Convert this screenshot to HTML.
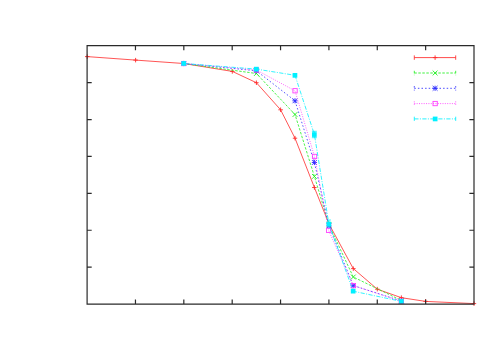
<!DOCTYPE html>
<html><head><meta charset="utf-8"><title>plot</title>
<style>html,body{margin:0;padding:0;background:#fff;font-family:"Liberation Sans",sans-serif}svg{display:block}</style>
</head><body>
<svg width="500" height="350" viewBox="0 0 500 350">
<rect width="500" height="350" fill="#fff"/>
<polyline points="87.2,56.6 135.6,60.1 183.7,63.5 232.3,71.4 256.4,82.7 280.6,109.8 295.0,138.2 314.4,187.5 329.0,224.0 353.3,268.6 377.3,289.2 401.4,297.7 425.6,301.4 474.0,303.6" fill="none" stroke="#ff2a2a" stroke-width="0.8"/>
<path d="M85.0 56.6H89.5M87.2 54.4V58.9" stroke="#ff2a2a" stroke-width="0.9" fill="none"/>
<path d="M133.3 60.1H137.8M135.6 57.9V62.4" stroke="#ff2a2a" stroke-width="0.9" fill="none"/>
<path d="M181.4 63.5H185.9M183.7 61.2V65.8" stroke="#ff2a2a" stroke-width="0.9" fill="none"/>
<path d="M230.1 71.4H234.6M232.3 69.2V73.7" stroke="#ff2a2a" stroke-width="0.9" fill="none"/>
<path d="M254.1 82.7H258.6M256.4 80.5V85.0" stroke="#ff2a2a" stroke-width="0.9" fill="none"/>
<path d="M278.4 109.8H282.9M280.6 107.5V112.0" stroke="#ff2a2a" stroke-width="0.9" fill="none"/>
<path d="M292.8 138.2H297.2M295.0 135.9V140.4" stroke="#ff2a2a" stroke-width="0.9" fill="none"/>
<path d="M312.1 187.5H316.6M314.4 185.2V189.8" stroke="#ff2a2a" stroke-width="0.9" fill="none"/>
<path d="M326.8 224.0H331.2M329.0 221.8V226.2" stroke="#ff2a2a" stroke-width="0.9" fill="none"/>
<path d="M351.1 268.6H355.6M353.3 266.4V270.9" stroke="#ff2a2a" stroke-width="0.9" fill="none"/>
<path d="M375.1 289.2H379.6M377.3 286.9V291.4" stroke="#ff2a2a" stroke-width="0.9" fill="none"/>
<path d="M399.1 297.7H403.6M401.4 295.4V299.9" stroke="#ff2a2a" stroke-width="0.9" fill="none"/>
<path d="M423.4 301.4H427.9M425.6 299.1V303.6" stroke="#ff2a2a" stroke-width="0.9" fill="none"/>
<path d="M471.8 303.6H476.2M474.0 301.4V305.9" stroke="#ff2a2a" stroke-width="0.9" fill="none"/>
<path d="M414.3 57.6H455.7" fill="none" stroke="#ff2a2a" stroke-width="0.85"/>
<path d="M414.3 55.4V59.800000000000004M455.7 55.4V59.800000000000004" fill="none" stroke="#ff2a2a" stroke-width="0.85"/>
<path d="M432.9 57.6H437.4M435.1 55.4V59.9" stroke="#ff2a2a" stroke-width="0.9" fill="none"/>
<polyline points="183.7,63.5 256.4,73.5 295.0,114.5 314.4,176.4 329.0,225.0 353.3,277.0 401.4,300.5" fill="none" stroke="#20f020" stroke-width="0.8" stroke-dasharray="2.5 1.5"/>
<path d="M181.3 61.1L186.1 65.9M181.3 65.9L186.1 61.1" stroke="#20f020" stroke-width="0.9" fill="none"/>
<path d="M254.0 71.1L258.8 75.9M254.0 75.9L258.8 71.1" stroke="#20f020" stroke-width="0.9" fill="none"/>
<path d="M292.6 112.1L297.4 116.9M292.6 116.9L297.4 112.1" stroke="#20f020" stroke-width="0.9" fill="none"/>
<path d="M312.0 174.0L316.8 178.8M312.0 178.8L316.8 174.0" stroke="#20f020" stroke-width="0.9" fill="none"/>
<path d="M326.6 222.6L331.4 227.4M326.6 227.4L331.4 222.6" stroke="#20f020" stroke-width="0.9" fill="none"/>
<path d="M350.9 274.6L355.7 279.4M350.9 279.4L355.7 274.6" stroke="#20f020" stroke-width="0.9" fill="none"/>
<path d="M399.0 298.1L403.8 302.9M399.0 302.9L403.8 298.1" stroke="#20f020" stroke-width="0.9" fill="none"/>
<path d="M414.3 73.0H455.7" fill="none" stroke="#20f020" stroke-width="0.85" stroke-dasharray="2.5 1.5"/>
<path d="M414.3 70.8V75.2M455.7 70.8V75.2" fill="none" stroke="#20f020" stroke-width="0.85" stroke-dasharray="2.5 1.5"/>
<path d="M432.7 70.6L437.5 75.4M432.7 75.4L437.5 70.6" stroke="#20f020" stroke-width="0.9" fill="none"/>
<polyline points="183.7,63.5 256.4,70.8 295.0,100.8 314.4,162.5 329.0,226.0 353.3,285.6 401.4,301.0" fill="none" stroke="#2a2aff" stroke-width="0.8" stroke-dasharray="1.5 2.1"/>
<path d="M181.3 61.1L186.1 65.9M181.3 65.9L186.1 61.1" stroke="#2a2aff" stroke-width="0.9" fill="none"/><path d="M181.1 63.5H186.3M183.7 60.9V66.1" stroke="#2a2aff" stroke-width="0.9" fill="none"/>
<path d="M254.0 68.4L258.8 73.2M254.0 73.2L258.8 68.4" stroke="#2a2aff" stroke-width="0.9" fill="none"/><path d="M253.8 70.8H259.0M256.4 68.2V73.4" stroke="#2a2aff" stroke-width="0.9" fill="none"/>
<path d="M292.6 98.4L297.4 103.2M292.6 103.2L297.4 98.4" stroke="#2a2aff" stroke-width="0.9" fill="none"/><path d="M292.4 100.8H297.6M295.0 98.2V103.4" stroke="#2a2aff" stroke-width="0.9" fill="none"/>
<path d="M312.0 160.1L316.8 164.9M312.0 164.9L316.8 160.1" stroke="#2a2aff" stroke-width="0.9" fill="none"/><path d="M311.8 162.5H317.0M314.4 159.9V165.1" stroke="#2a2aff" stroke-width="0.9" fill="none"/>
<path d="M326.6 223.6L331.4 228.4M326.6 228.4L331.4 223.6" stroke="#2a2aff" stroke-width="0.9" fill="none"/><path d="M326.4 226.0H331.6M329.0 223.4V228.6" stroke="#2a2aff" stroke-width="0.9" fill="none"/>
<path d="M350.9 283.2L355.7 288.0M350.9 288.0L355.7 283.2" stroke="#2a2aff" stroke-width="0.9" fill="none"/><path d="M350.7 285.6H355.9M353.3 283.0V288.2" stroke="#2a2aff" stroke-width="0.9" fill="none"/>
<path d="M399.0 298.6L403.8 303.4M399.0 303.4L403.8 298.6" stroke="#2a2aff" stroke-width="0.9" fill="none"/><path d="M398.8 301.0H404.0M401.4 298.4V303.6" stroke="#2a2aff" stroke-width="0.9" fill="none"/>
<path d="M414.3 88.3H455.7" fill="none" stroke="#2a2aff" stroke-width="0.85" stroke-dasharray="1.5 2.1"/>
<path d="M414.3 86.1V90.5M455.7 86.1V90.5" fill="none" stroke="#2a2aff" stroke-width="0.85" stroke-dasharray="1.5 2.1"/>
<path d="M432.7 85.9L437.5 90.7M432.7 90.7L437.5 85.9" stroke="#2a2aff" stroke-width="0.9" fill="none"/><path d="M432.5 88.3H437.7M435.1 85.7V90.9" stroke="#2a2aff" stroke-width="0.9" fill="none"/>
<polyline points="183.7,63.5 256.4,70.0 295.0,90.8 314.5,156.5 328.6,230.4 353.3,285.6 401.4,301.2" fill="none" stroke="#ff40ff" stroke-width="0.8" stroke-dasharray="1.0 1.35"/>
<rect x="181.5" y="61.4" width="4.3" height="4.3" stroke="#ff40ff" stroke-width="0.9" fill="none"/>
<rect x="254.2" y="67.8" width="4.3" height="4.3" stroke="#ff40ff" stroke-width="0.9" fill="none"/>
<rect x="292.9" y="88.6" width="4.3" height="4.3" stroke="#ff40ff" stroke-width="0.9" fill="none"/>
<rect x="312.4" y="154.3" width="4.3" height="4.3" stroke="#ff40ff" stroke-width="0.9" fill="none"/>
<rect x="326.5" y="228.2" width="4.3" height="4.3" stroke="#ff40ff" stroke-width="0.9" fill="none"/>
<rect x="351.2" y="283.5" width="4.3" height="4.3" stroke="#ff40ff" stroke-width="0.9" fill="none"/>
<rect x="399.2" y="299.1" width="4.3" height="4.3" stroke="#ff40ff" stroke-width="0.9" fill="none"/>
<path d="M414.3 103.6H455.7" fill="none" stroke="#ff40ff" stroke-width="0.85" stroke-dasharray="1.0 1.35"/>
<path d="M414.3 101.39999999999999V105.8M455.7 101.39999999999999V105.8" fill="none" stroke="#ff40ff" stroke-width="0.85" stroke-dasharray="1.0 1.35"/>
<rect x="433.0" y="101.4" width="4.3" height="4.3" stroke="#ff40ff" stroke-width="0.9" fill="none"/>
<polyline points="183.7,63.5 256.4,69.1 295.0,75.3 314.4,134.5 328.9,224.0 353.2,291.2 401.4,301.4" fill="none" stroke="#00f0ff" stroke-width="0.8" stroke-dasharray="4.2 1.4 1.0 1.4"/>
<rect x="181.3" y="61.1" width="4.7" height="4.7" fill="#00f0ff"/>
<rect x="254.0" y="66.8" width="4.7" height="4.7" fill="#00f0ff"/>
<rect x="292.6" y="73.0" width="4.7" height="4.7" fill="#00f0ff"/>
<rect x="312.0" y="132.2" width="4.7" height="4.7" fill="#00f0ff"/>
<rect x="326.5" y="221.7" width="4.7" height="4.7" fill="#00f0ff"/>
<rect x="350.8" y="288.8" width="4.7" height="4.7" fill="#00f0ff"/>
<rect x="399.0" y="299.0" width="4.7" height="4.7" fill="#00f0ff"/>
<path d="M414.3 118.9H455.7" fill="none" stroke="#00f0ff" stroke-width="0.85" stroke-dasharray="4.2 1.4 1.0 1.4"/>
<path d="M414.3 116.7V121.10000000000001M455.7 116.7V121.10000000000001" fill="none" stroke="#00f0ff" stroke-width="0.85" stroke-dasharray="4.2 1.4 1.0 1.4"/>
<rect x="432.8" y="116.6" width="4.7" height="4.7" fill="#00f0ff"/>
<path d="M314.35 131.3V137.7M311.9 131.3H316.8M311.9 137.7H316.8" stroke="#00f0ff" stroke-width="0.8" fill="none"/>
<path d="M328.9 220V228M327 220H331" stroke="#00f0ff" stroke-width="0.7" fill="none"/>
<path d="M87.1 45.7H474.0V304.1H87.1ZM135.46 45.7v4.6M135.46 304.1v-4.6M183.82 45.7v4.6M183.82 304.1v-4.6M232.19 45.7v4.6M232.19 304.1v-4.6M280.55 45.7v4.6M280.55 304.1v-4.6M328.91 45.7v4.6M328.91 304.1v-4.6M377.27 45.7v4.6M377.27 304.1v-4.6M425.64 45.7v4.6M425.64 304.1v-4.6M87.1 82.61h4.6M474.0 82.61h-4.6M87.1 119.53h4.6M474.0 119.53h-4.6M87.1 156.44h4.6M474.0 156.44h-4.6M87.1 193.36h4.6M474.0 193.36h-4.6M87.1 230.27h4.6M474.0 230.27h-4.6M87.1 267.19h4.6M474.0 267.19h-4.6" fill="none" stroke="#2a2a2a" stroke-width="1.2"/>
</svg>
</body></html>
